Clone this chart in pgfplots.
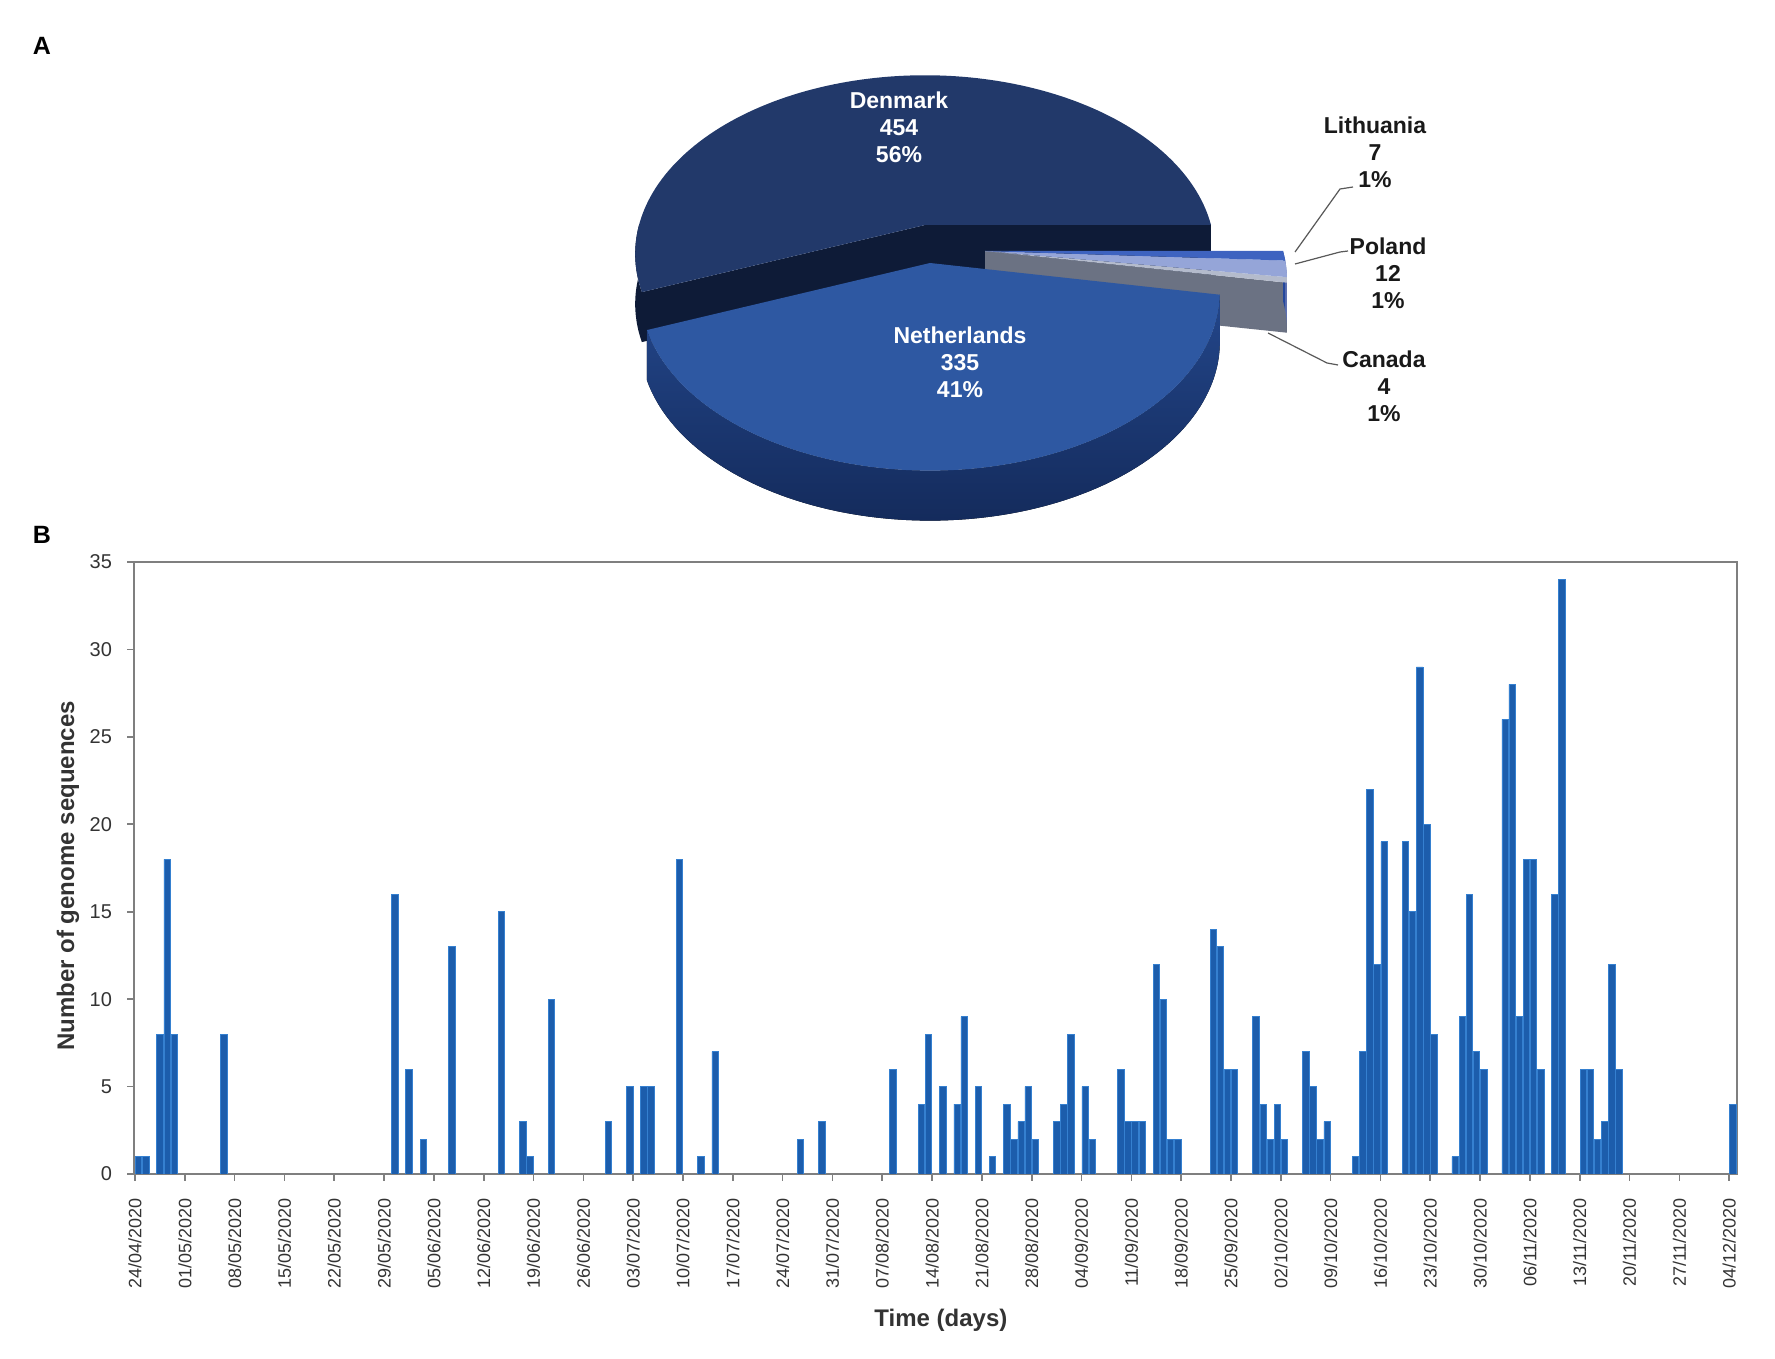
\documentclass[border=0pt]{standalone}
\usepackage{fontspec}
\setmainfont{Liberation Sans}
\usepackage{pgfplots}
\usepackage{pgfplotstable}
\pgfplotsset{compat=1.18}

\definecolor{dktop}{HTML}{22396A}
\definecolor{dkside}{HTML}{0E1B37}
\definecolor{nltop}{HTML}{2E58A2}
\definecolor{nlsideA}{HTML}{23468A}
\definecolor{nlsideB}{HTML}{142B5C}
\definecolor{ltop}{HTML}{3E63C0}
\definecolor{lside}{HTML}{24479C}
\definecolor{ptop}{HTML}{95A5D8}
\definecolor{pside}{HTML}{5D70B0}
\definecolor{ctop}{HTML}{B4BBCC}
\definecolor{cwall}{HTML}{6B7283}
\definecolor{cside}{HTML}{565C6C}
\definecolor{framegray}{HTML}{7F7F7F}
\definecolor{tickgray}{HTML}{333333}
\definecolor{barFill}{HTML}{1C5DAC}
\definecolor{barEdge}{HTML}{3580D0}

% perspective projection of the pie rim: centre x, radius, angle / centre y, angle
\pgfmathdeclarefunction{px}{3}{\pgfmathparse{#1+#2*cos(#3)/(1+0.162*sin(#3))}}
\pgfmathdeclarefunction{py}{2}{\pgfmathparse{#1-174*sin(#2)/(1+0.162*sin(#2))}}

% counts per country
\pgfmathsetmacro{\vDK}{454}
\pgfmathsetmacro{\vNL}{335}
\pgfmathsetmacro{\vCA}{4}
\pgfmathsetmacro{\vPL}{12}
\pgfmathsetmacro{\vLT}{7}
\pgfmathsetmacro{\vTot}{\vDK+\vNL+\vCA+\vPL+\vLT}
\pgfmathsetmacro{\aD}{\vDK/\vTot*360}
\pgfmathsetmacro{\aN}{\aD+\vNL/\vTot*360}
\pgfmathsetmacro{\aC}{\aN+\vCA/\vTot*360}
\pgfmathsetmacro{\aP}{\aC+\vPL/\vTot*360}
\pgfmathsetmacro{\aL}{360}

\pgfplotstableread{
day value
0 1
1 1
3 8
4 18
5 8
12 8
36 16
38 6
40 2
44 13
51 15
54 3
55 1
58 10
66 3
69 5
71 5
72 5
76 18
79 1
81 7
93 2
96 3
106 6
110 4
111 8
113 5
115 4
116 9
118 5
120 1
122 4
123 2
124 3
125 5
126 2
129 3
130 4
131 8
133 5
134 2
138 6
139 3
140 3
141 3
143 12
144 10
145 2
146 2
151 14
152 13
153 6
154 6
157 9
158 4
159 2
160 4
161 2
164 7
165 5
166 2
167 3
171 1
172 7
173 22
174 12
175 19
178 19
179 15
180 29
181 20
182 8
185 1
186 9
187 16
188 7
189 6
192 26
193 28
194 9
195 18
196 18
197 6
199 16
200 34
203 6
204 6
205 2
206 3
207 12
208 6
224 4
}\bardata

\begin{document}
\begin{tikzpicture}
\useasboundingbox (0,0) rectangle (887.5pt,679pt);

% ---------- canvas axis for panel A (pixel coordinates, y downward) ----------
\begin{axis}[
  at={(0pt,0pt)}, anchor=south west,
  scale only axis, width=887.5pt, height=679pt,
  xmin=0, xmax=1775, ymin=0, ymax=1358, y dir=reverse,
  hide axis, clip=false]

% Denmark: cut faces and left outer side
\fill[dkside] (925,225) -- (1211,225) -- (1211,275) -- (925,275) -- cycle;
\fill[dkside] (925,225) -- ({px(925,286,\aD)},{py(225,\aD)}) -- ({px(925,286,\aD)},{py(225,\aD)+50}) -- (925,275) -- cycle;
\fill[dkside] plot[domain=180:\aD, samples=20, variable=\t] ({px(925,286,\t)},{py(225,\t)})
   -- plot[domain=\aD:180, samples=20, variable=\t] ({px(925,286,\t)},{py(225,\t)+50}) -- cycle;
% Denmark top
\fill[dktop] (925,225) -- plot[domain=0:\aD, samples=120, variable=\t] ({px(925,286,\t)},{py(225,\t)}) -- cycle;

% small slices (exploded)
\fill[cwall] (985,251) -- ({px(985,298,\aN)},{py(251,\aN)}) -- ({px(985,298,\aN)},{py(251,\aN)+50}) -- (985,301) -- cycle;
\fill[cside] plot[domain=\aN:\aC, samples=5, variable=\t] ({px(985,298,\t)},{py(251,\t)})
   -- plot[domain=\aC:\aN, samples=5, variable=\t] ({px(985,298,\t)},{py(251,\t)+50}) -- cycle;
\fill[pside] plot[domain=\aC:\aP, samples=8, variable=\t] ({px(985,298,\t)},{py(251,\t)})
   -- plot[domain=\aP:\aC, samples=8, variable=\t] ({px(985,298,\t)},{py(251,\t)+50}) -- cycle;
\fill[lside] plot[domain=\aP:\aL, samples=6, variable=\t] ({px(985,298,\t)},{py(251,\t)})
   -- plot[domain=\aL:\aP, samples=6, variable=\t] ({px(985,298,\t)},{py(251,\t)+50}) -- cycle;
\fill[ctop] (985,251) -- plot[domain=\aN:\aC, samples=5, variable=\t] ({px(985,298,\t)},{py(251,\t)}) -- cycle;
\fill[ptop] (985,251) -- plot[domain=\aC:\aP, samples=8, variable=\t] ({px(985,298,\t)},{py(251,\t)}) -- cycle;
\fill[ltop] (985,251) -- plot[domain=\aP:\aL, samples=6, variable=\t] ({px(985,298,\t)},{py(251,\t)}) -- cycle;

% Netherlands side and top
\fill[top color=nlsideA, bottom color=nlsideB] plot[domain=\aD:\aN, samples=100, variable=\t] ({px(930,286,\t)},{py(263,\t)})
   -- plot[domain=\aN:\aD, samples=100, variable=\t] ({px(930,286,\t)},{py(263,\t)+50}) -- cycle;
\fill[nltop] (930,263) -- plot[domain=\aD:\aN, samples=100, variable=\t] ({px(930,286,\t)},{py(263,\t)}) -- cycle;

% labels
\node[text=white, align=center, font=\bfseries\fontsize{11.5}{13.5}\selectfont] at (899,127) {Denmark\\454\\56\%};
\node[text=white, align=center, font=\bfseries\fontsize{11.5}{13.5}\selectfont] at (960,362) {Netherlands\\335\\41\%};
\node[text=black!90, align=center, font=\bfseries\fontsize{11.5}{13.5}\selectfont] at (1375,152) {Lithuania\\7\\1\%};
\node[text=black!90, align=center, font=\bfseries\fontsize{11.5}{13.5}\selectfont] at (1388,273) {Poland\\12\\1\%};
\node[text=black!90, align=center, font=\bfseries\fontsize{11.5}{13.5}\selectfont] at (1384,386) {Canada\\4\\1\%};
\draw[black!65, line width=0.6pt] (1295,252) -- (1340,189) -- (1353,187);
\draw[black!65, line width=0.6pt] (1295,264) -- (1340,252) -- (1348,251);
\draw[black!65, line width=0.6pt] (1268,333) -- (1327,363) -- (1338,365);

\node[font=\bfseries\fontsize{12.5}{14}\selectfont] at (42,46) {A};
\node[font=\bfseries\fontsize{12.5}{14}\selectfont] at (42,535) {B};
\end{axis}

% ---------- panel B ----------
\begin{axis}[
  at={(67pt,92pt)}, anchor=south west,
  scale only axis, width=801.5pt, height=306pt,
  xmin=-0.64, xmax=224.6, ymin=0, ymax=35,
  xtick={-0.5,6.5,13.5,20.5,27.5,34.5,41.5,48.5,55.5,62.5,69.5,76.5,83.5,90.5,97.5,104.5,111.5,118.5,125.5,132.5,139.5,146.5,153.5,160.5,167.5,174.5,181.5,188.5,195.5,202.5,209.5,216.5,223.5},
  xticklabels={24/04/2020,01/05/2020,08/05/2020,15/05/2020,22/05/2020,29/05/2020,05/06/2020,12/06/2020,19/06/2020,26/06/2020,03/07/2020,10/07/2020,17/07/2020,24/07/2020,31/07/2020,07/08/2020,14/08/2020,21/08/2020,28/08/2020,04/09/2020,11/09/2020,18/09/2020,25/09/2020,02/10/2020,09/10/2020,16/10/2020,23/10/2020,30/10/2020,06/11/2020,13/11/2020,20/11/2020,27/11/2020,04/12/2020},
  ytick={0,5,10,15,20,25,30,35},
  tick align=outside, tick pos=left,
  major tick length=3.5pt,
  axis line style={draw=framegray, line width=1pt},
  every tick/.style={draw=framegray, line width=0.8pt},
  /pgf/number format/assume math mode=true,
  xticklabel style={rotate=90, anchor=east, font=\fontsize{9}{11}\selectfont, text=tickgray},
  yticklabel style={font=\fontsize{10}{12}\selectfont, text=tickgray},
  xticklabel shift=5pt, yticklabel shift=4pt,
  xlabel={Time (days)}, ylabel={Number of genome sequences},
  xlabel style={at={(axis description cs:0.5034,-0.2386)}, anchor=center, font=\bfseries\fontsize{12}{14}\selectfont, text=tickgray},
  ylabel style={at={(axis description cs:-0.0412,0.487)}, anchor=center, rotate=0, font=\bfseries\fontsize{12}{14}\selectfont, text=tickgray},
]
\addplot[ybar, bar width=0.9, fill=barFill, draw=barEdge, line width=0.3pt] table[x=day, y=value] {\bardata};
\end{axis}
\end{tikzpicture}
\end{document}
